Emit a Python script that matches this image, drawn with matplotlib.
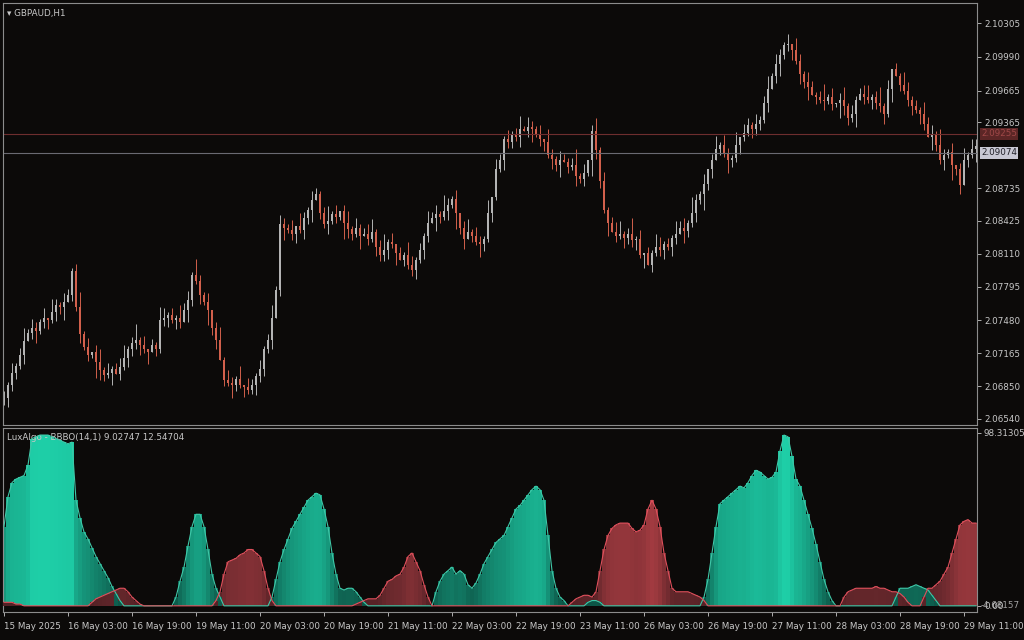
import numpy as np
import matplotlib
matplotlib.use("Agg")
import matplotlib.pyplot as plt
from matplotlib.colors import to_rgb

# closes in pips above 2.0600 (one per H1 bar)
CLOSE_PIPS = [
    74, 86, 98, 104, 115, 128, 136, 140, 138, 146,
    150, 148, 156, 162, 160, 165, 172, 195, 160, 135,
    122, 115, 118, 108, 100, 96, 98, 101, 97, 103,
    112, 120, 126, 129, 124, 120, 118, 124, 120, 148,
    150, 153, 148, 150, 146, 158, 167, 191, 185, 172,
    165, 158, 140, 129, 110, 91, 88, 86, 92, 86,
    84, 81, 86, 95, 101, 120, 129, 150, 177, 239,
    236, 234, 230, 238, 234, 245, 253, 262, 268, 250,
    239, 242, 249, 246, 252, 240, 235, 230, 236, 228,
    230, 225, 232, 218, 210, 215, 222, 220, 212, 205,
    210, 200, 196, 205, 215, 228, 240, 245, 249, 246,
    252, 258, 263, 250, 236, 225, 232, 228, 222, 220,
    225, 250, 265, 292, 300, 320, 318, 325, 322, 330,
    328, 332, 330, 325, 320, 318, 305, 301, 296, 300,
    299, 294, 296, 285, 282, 288, 300, 328, 310, 280,
    253, 240, 232, 228, 230, 226, 230, 224, 225, 210,
    212, 200, 212, 218, 215, 220, 218, 226, 230, 236,
    233, 240, 250, 262, 268, 278, 292, 300, 311, 315,
    306, 300, 302, 315, 322, 326, 334, 330, 335, 339,
    355, 368, 380, 392, 400, 410, 411, 405, 395, 382,
    375, 370, 362, 360, 358, 357, 360, 354, 355, 358,
    352, 340, 344, 358, 363, 360, 358, 360, 355, 352,
    344, 368, 387, 380, 372, 366, 358, 352, 348, 344,
    335, 322, 325, 315, 300, 305, 308, 296, 292, 277,
    300, 305, 311, 314,
]
FIRST_OPEN = 70
# wick lengths (x3 pips), cycled
WICK_UP = "21312413213042132125130241312341251302143121423152130241321403"
WICK_DN = "13221302412313240213121532140213223140212313204213152302142131"

BULL = [
    45, 62, 70, 72, 73, 74, 80, 95, 96, 97,
    97, 97, 96, 95, 94, 93, 92, 93, 60, 50,
    42, 38, 33, 28, 24, 20, 16, 11, 7, 3,
    0, 0, 0, 0, 0, 0, 0, 0, 0, 0,
    0, 0, 0, 5, 14, 22, 34, 45, 52, 52,
    45, 32, 18, 10, 5, 0, 0, 0, 0, 0,
    0, 0, 0, 0, 0, 0, 0, 5, 15, 25,
    32, 38, 44, 48, 52, 56, 60, 62, 64, 63,
    55, 45, 30, 18, 10, 9, 10, 10, 8, 5,
    2, 0, 0, 0, 0, 0, 0, 0, 0, 0,
    0, 0, 0, 0, 0, 0, 0, 0, 8, 14,
    18, 20, 22, 18, 20, 18, 12, 10, 13, 18,
    24, 28, 32, 36, 38, 40, 45, 50, 55, 57,
    60, 63, 66, 68, 66, 60, 40, 20, 10, 5,
    3, 0, 0, 0, 0, 0, 2, 3, 3, 2,
    0, 0, 0, 0, 0, 0, 0, 0, 0, 0,
    0, 0, 0, 0, 0, 0, 0, 0, 0, 0,
    0, 0, 0, 0, 0, 5, 15, 30, 45, 58,
    60, 62, 64, 66, 68, 67, 70, 74, 77, 76,
    74, 72, 73, 76, 88, 97, 96, 85, 72, 68,
    60, 52, 44, 35, 25, 15, 8, 3, 0, 0,
    0, 0, 0, 0, 0, 0, 0, 0, 0, 0,
    0, 0, 0, 5, 10, 10, 10, 11, 12, 11,
    10, 9, 6, 3, 0, 0, 0, 0, 0, 0,
    0, 0, 0, 0,
]
BEAR = [
    2, 2, 2, 1, 1, 0, 0, 0, 0, 0,
    0, 0, 0, 0, 0, 0, 0, 0, 0, 0,
    0, 0, 2, 4, 5, 6, 7, 8, 9, 10,
    10, 8, 5, 3, 1, 0, 0, 0, 0, 0,
    0, 0, 0, 0, 0, 0, 0, 0, 0, 0,
    0, 0, 0, 3, 8, 18, 25, 26, 27, 29,
    30, 32, 32, 30, 28, 20, 10, 3, 0, 0,
    0, 0, 0, 0, 0, 0, 0, 0, 0, 0,
    0, 0, 0, 0, 0, 0, 0, 0, 1, 2,
    3, 4, 4, 4, 6, 10, 14, 15, 17, 18,
    22, 28, 30, 25, 20, 12, 5, 0, 0, 0,
    0, 0, 0, 0, 0, 0, 0, 0, 0, 0,
    0, 0, 0, 0, 0, 0, 0, 0, 0, 0,
    0, 0, 0, 0, 0, 0, 0, 0, 0, 0,
    0, 0, 2, 4, 5, 6, 6, 5, 8, 20,
    32, 40, 44, 46, 47, 47, 47, 44, 42, 43,
    46, 55, 60, 55, 45, 30, 20, 10, 8, 8,
    8, 8, 7, 6, 5, 3, 0, 0, 0, 0,
    0, 0, 0, 0, 0, 0, 0, 0, 0, 0,
    0, 0, 0, 0, 0, 0, 0, 0, 0, 0,
    0, 0, 0, 0, 0, 0, 0, 0, 0, 0,
    5, 8, 9, 10, 10, 10, 10, 10, 11, 10,
    10, 9, 8, 8, 7, 5, 2, 0, 0, 0,
    5, 10, 10, 12, 14, 18, 22, 30, 38, 46,
    48, 49, 47, 47,
]

PRICE_TICKS = [2.10305, 2.09990, 2.09665, 2.09365, 2.08735, 2.08425,
               2.08110, 2.07795, 2.07480, 2.07165, 2.06850, 2.06540]
DATE_POS = [0, 16, 32, 48, 64, 80, 96, 112, 128, 144, 160, 176, 192, 208, 224, 240]
DATE_LBL = ["15 May 2025", "16 May 03:00", "16 May 19:00", "19 May 11:00", "20 May 03:00",
            "20 May 19:00", "21 May 11:00", "22 May 03:00", "22 May 19:00", "23 May 11:00",
            "26 May 03:00", "26 May 19:00", "27 May 11:00", "28 May 03:00", "28 May 19:00",
            "29 May 11:00"]
ASK, BID = 2.09255, 2.09074

BG = "#0c0a09"; FRAME = "#8c8c8c"; TXT = "#c8c8c8"
UP_C = "#b4b4b4"; DN_C = "#d2604c"
FS = 6.3

close = 2.06 + np.array(CLOSE_PIPS) / 10000
opn = np.concatenate([[2.06 + FIRST_OPEN / 10000], close[:-1]])
n = len(close)
idx = np.arange(n)
up = np.array([int(WICK_UP[i % len(WICK_UP)]) for i in idx]) * 3e-4
dn = np.array([int(WICK_DN[i % len(WICK_DN)]) for i in idx]) * 3e-4
high = np.maximum(opn, close) + up
low = np.minimum(opn, close) - dn

fig = plt.figure(figsize=(10.24, 6.4), dpi=100, facecolor=BG)
W, H = 1024, 640
ax = fig.add_axes([3 / W, (H - 425) / H, 974 / W, 422 / H], facecolor=BG)
ax2 = fig.add_axes([3 / W, (H - 612) / H, 974 / W, 184 / H], facecolor=BG)
for a in (ax, ax2):
    for s in a.spines.values():
        s.set_color(FRAME); s.set_linewidth(0.8)
    a.set_xlim(-0.25, n - 0.75)
    a.yaxis.tick_right()
    a.tick_params(colors=TXT, labelsize=FS, length=3, width=0.6, pad=2)

# candles
for i in idx:
    c = UP_C if close[i] >= opn[i] else DN_C
    ax.vlines(i, low[i], high[i], color=c, lw=0.7)
    b0 = min(opn[i], close[i]); h = max(abs(close[i] - opn[i]), 0.00004)
    ax.bar(i, h, bottom=b0, width=0.62, color=c, lw=0)
ax.axhline(ASK, color="#6e2e2e", lw=0.8)
ax.axhline(BID, color="#6a6a72", lw=0.8)
ax.set_ylim(2.06480, 2.10500)
ax.set_yticks(PRICE_TICKS)
ax.set_yticklabels([f"{t:.5f}" for t in PRICE_TICKS])
ax.set_xticks([])
for v, fc, tc in [(ASK, "#5c2626", "#a04848"), (BID, "#c8c8d4", "#202028")]:
    ax.text(1.004, v, f"{v:.5f}", transform=ax.get_yaxis_transform(), fontsize=FS,
            color=tc, va="center", ha="left",
            bbox=dict(boxstyle="square,pad=0.15", fc=fc, ec="none"))
ax.text(0.004, 0.985, "\u25be GBPAUD,H1", transform=ax.transAxes, color=TXT,
        fontsize=FS, va="top", ha="left")

# indicator
bull = np.array(BULL, float); bear = np.array(BEAR, float)
def shade(v, lo, hi):
    t = np.clip(v / 98.0, 0, 1) ** 0.7
    lo, hi = np.array(to_rgb(lo)), np.array(to_rgb(hi))
    return lo + (hi - lo) * t
for i in idx:
    if bull[i] > 0:
        ax2.bar(i, bull[i], width=1.0, color=shade(bull[i], "#0b4a3e", "#1ecfa8"), lw=0, zorder=2)
    if bear[i] > 0:
        ax2.bar(i, bear[i], width=1.0, color=shade(bear[i], "#4a1e22", "#c4464c"), lw=0,
                zorder=3 if bear[i] < bull[i] else 1)
ax2.plot(idx, bull, color="#3fc8a8", lw=0.8, zorder=4)
ax2.plot(idx, bear, color="#e0505c", lw=0.8, zorder=4)
ax2.set_ylim(-3.5, 101)
ax2.set_yticks([98.31305, 0])
ax2.set_yticklabels(["98.31305", "0.00"])
ax2.text(1.004, 0.0, "-4.68157", transform=ax2.get_yaxis_transform(), fontsize=FS,
         color=TXT, va="center", ha="left", alpha=0.8)
ax2.text(0.004, 0.975, "LuxAlgo - BBBO(14,1) 9.02747 12.54704", transform=ax2.transAxes,
         color=TXT, fontsize=FS, va="top", ha="left")
ax2.set_xticks(DATE_POS)
ax2.set_xticklabels(DATE_LBL, ha="left")
ax2.tick_params(axis="x", length=3, pad=4)

fig.savefig("out.png", dpi=100, facecolor=BG)
